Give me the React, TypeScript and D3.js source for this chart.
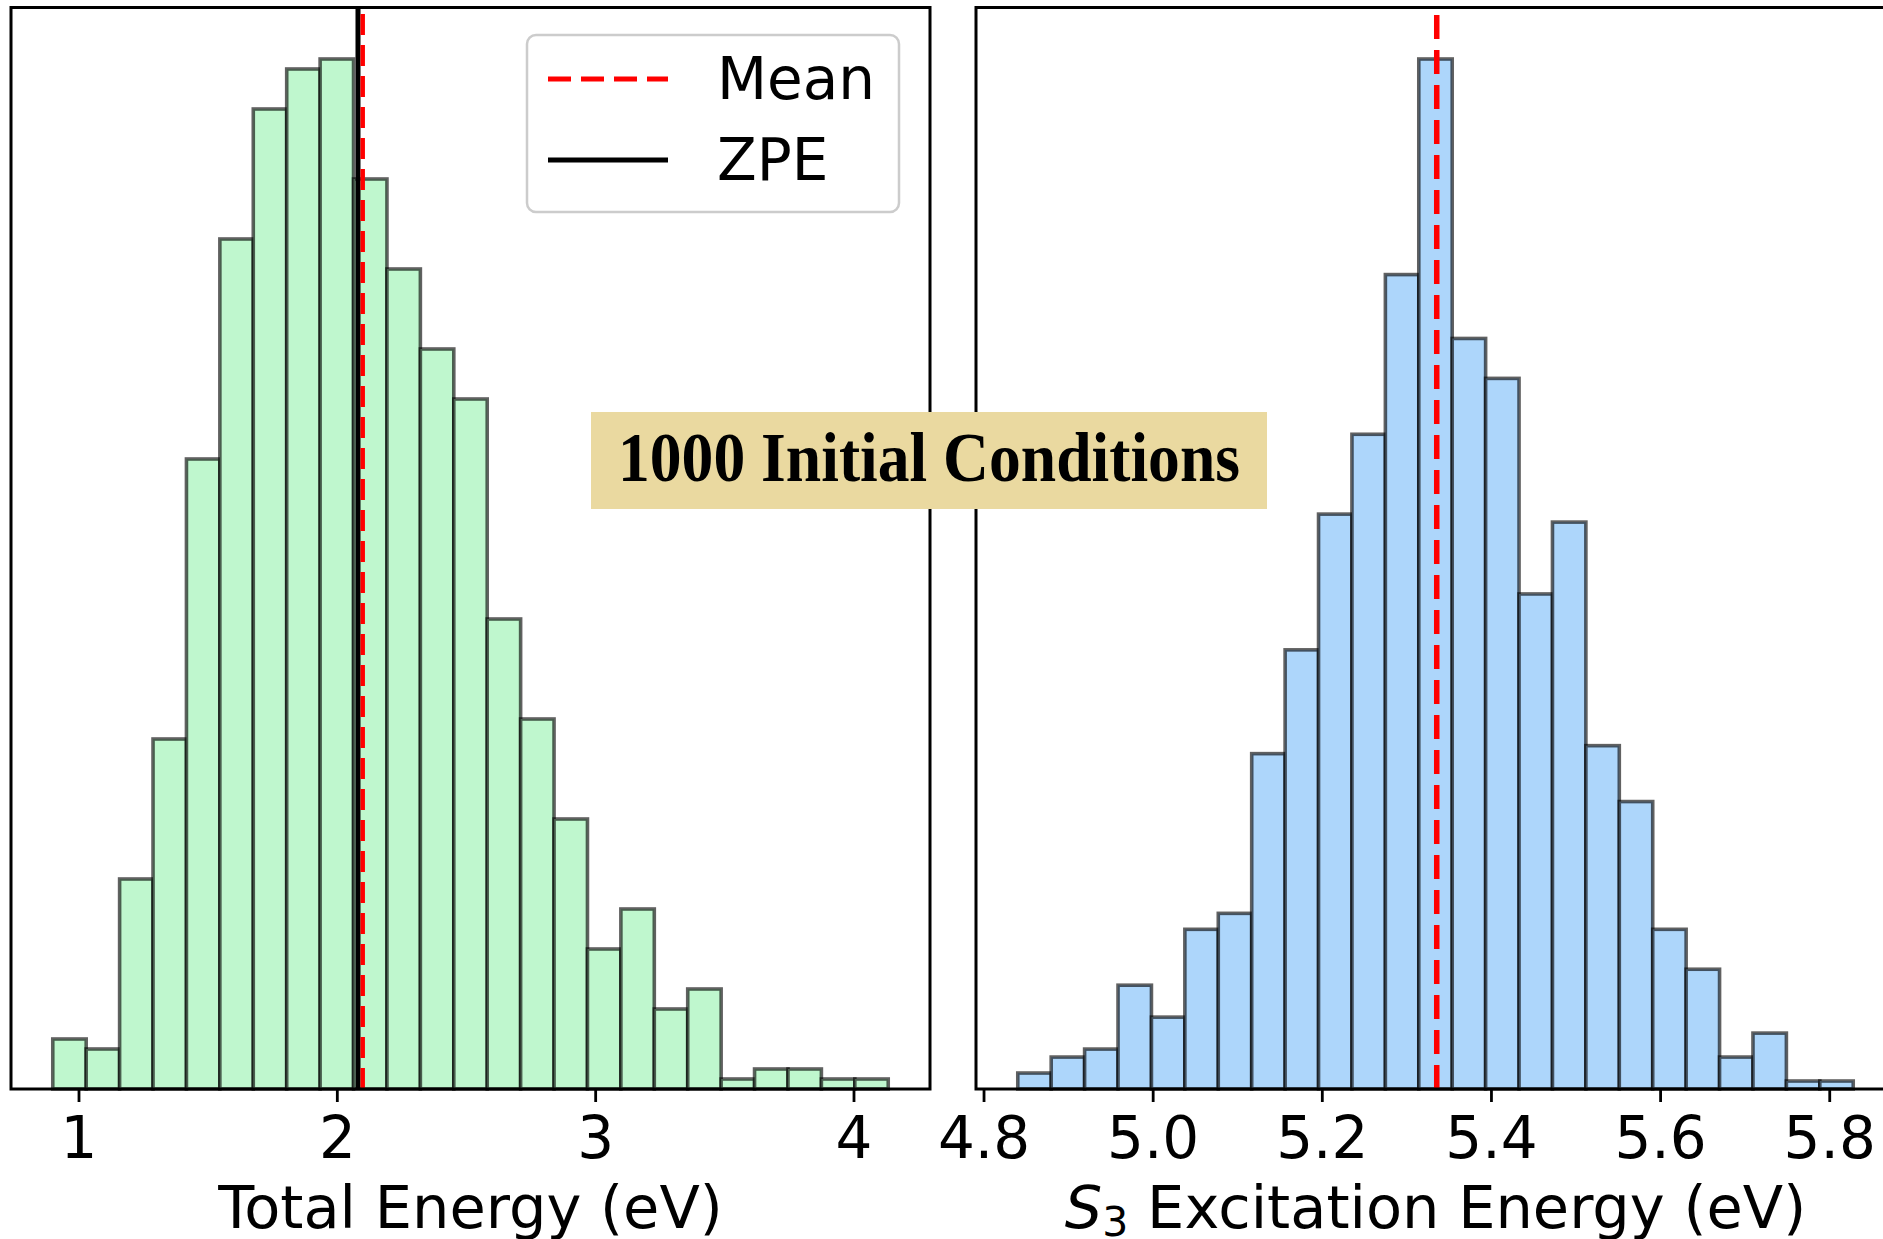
import React from "react";
import * as d3 from "d3";

// ---- data ----
const LEFT_COUNTS = [5, 4, 21, 35, 63, 85, 98, 102, 103, 91, 82, 74, 69, 47, 37, 27, 14, 18, 8, 10, 1, 2, 2, 1, 1];
const LEFT_BIN_START = 0.8985;
const LEFT_BIN_WIDTH = 0.12936;
const LEFT_TICKS = [1, 2, 3, 4];
const LEFT_MEAN = 2.0982;
const LEFT_ZPE = 2.08;
const LEFT_LABEL = "Total Energy (eV)";

const RIGHT_COUNTS = [2, 4, 5, 13, 9, 20, 22, 42, 55, 72, 82, 102, 129, 94, 89, 62, 71, 43, 36, 20, 15, 4, 7, 1, 1];
const RIGHT_BIN_START = 4.8399;
const RIGHT_BIN_WIDTH = 0.039515;
const RIGHT_TICKS = [4.8, 5.0, 5.2, 5.4, 5.6, 5.8];
const RIGHT_MEAN = 5.3353;

const LEGEND_ITEMS = ["Mean", "ZPE"];
const TITLE = "1000 Initial Conditions";

const W = 1883;
const H = 1239;
const TOP = 7.5;
const BOTTOM = 1089;
const FONT = "DejaVu Sans, sans-serif";
const FS = 58;

function Panel({ x0, x1, counts, binStart, binWidth, ticks, fmt, fill, children }: any) {
  const n = counts.length;
  const a = binStart;
  const b = binStart + n * binWidth;
  const m = 0.05 * (b - a);
  const x = d3.scaleLinear().domain([a - m, b + m]).range([x0, x1]);
  const ymax = d3.max(counts) as number;
  const y = d3.scaleLinear().domain([0, ymax * 1.05]).range([BOTTOM, TOP]);
  return (
    <g>
      {counts.map((c: number, i: number) => {
        const l = x(a + i * binWidth);
        const r = x(a + (i + 1) * binWidth);
        return (
          <rect
            key={i}
            x={l}
            y={y(c)}
            width={r - l}
            height={y(0) - y(c)}
            fill={fill}
            stroke="#000"
            strokeOpacity={0.62}
            strokeWidth={3.6}
          />
        );
      })}
      {children && children(x, y)}
      <rect x={x0} y={TOP} width={x1 - x0} height={BOTTOM - TOP} fill="none" stroke="#000" strokeWidth={3} />
      {ticks.map((t: number) => (
        <g key={t}>
          <line x1={x(t)} x2={x(t)} y1={BOTTOM} y2={BOTTOM + 13} stroke="#000" strokeWidth={2.8} />
          <text x={x(t)} y={1158} textAnchor="middle" fontFamily={FONT} fontSize={FS} fill="#000">
            {fmt(t)}
          </text>
        </g>
      ))}
    </g>
  );
}

export default function App() {
  return (
    <svg
      width={W}
      height={H}
      style={{ position: "absolute", left: 0, top: 0, background: "#fff" }}
    >
      <rect x={0} y={0} width={W} height={H} fill="#fff" />
      <Panel
        x0={11}
        x1={930}
        counts={LEFT_COUNTS}
        binStart={LEFT_BIN_START}
        binWidth={LEFT_BIN_WIDTH}
        ticks={LEFT_TICKS}
        fmt={(t: number) => String(t)}
        fill="#BFF7CE"
      >
        {(x: any) => (
          <g>
            <line x1={x(LEFT_ZPE)} x2={x(LEFT_ZPE)} y1={TOP} y2={BOTTOM} stroke="#000" strokeWidth={5} />
            <line
              x1={x(LEFT_MEAN)}
              x2={x(LEFT_MEAN)}
              y1={BOTTOM}
              y2={TOP}
              stroke="#ff0000"
              strokeWidth={4.5}
              strokeDasharray="21,10"
            />
          </g>
        )}
      </Panel>
      <text x={470.5} y={1228} textAnchor="middle" fontFamily={FONT} fontSize={59} fill="#000">
        {LEFT_LABEL}
      </text>

      <Panel
        x0={976}
        x1={1895}
        counts={RIGHT_COUNTS}
        binStart={RIGHT_BIN_START}
        binWidth={RIGHT_BIN_WIDTH}
        ticks={RIGHT_TICKS}
        fmt={(t: number) => t.toFixed(1)}
        fill="#ADD6FB"
      >
        {(x: any) => (
          <line
            x1={x(RIGHT_MEAN)}
            x2={x(RIGHT_MEAN)}
            y1={BOTTOM}
            y2={TOP}
            stroke="#ff0000"
            strokeWidth={5.5}
            strokeDasharray="24,11"
          />
        )}
      </Panel>
      <text x={1435.5} y={1228} textAnchor="middle" fontFamily={FONT} fontSize={59} fill="#000">
        <tspan fontStyle="italic">S</tspan>
        <tspan fontSize={41} dy={8}>3</tspan>
        <tspan dy={-8}> Excitation Energy (eV)</tspan>
      </text>

      {/* legend */}
      <rect x={527} y={35} width={372} height={177} rx={9} ry={9} fill="#fff" fillOpacity={0.8} stroke="#cccccc" strokeWidth={2.5} />
      <line x1={548} x2={668} y1={79} y2={79} stroke="#ff0000" strokeWidth={5} strokeDasharray="23,10" />
      <line x1={548} x2={668} y1={160} y2={160} stroke="#000" strokeWidth={5} />
      <text x={717} y={99} fontFamily={FONT} fontSize={FS} fill="#000">{LEGEND_ITEMS[0]}</text>
      <text x={717} y={180} fontFamily={FONT} fontSize={FS} fill="#000">{LEGEND_ITEMS[1]}</text>

      {/* title box */}
      <rect x={591} y={412} width={676} height={97} fill="#EAD9A0" />
      <text
        x={929}
        y={481}
        textAnchor="middle"
        fontFamily="Liberation Serif, Times New Roman, serif"
        fontWeight="bold"
        fontSize={70}
        textLength={622}
        lengthAdjust="spacingAndGlyphs"
        fill="#000"
      >
        {TITLE}
      </text>
    </svg>
  );
}
